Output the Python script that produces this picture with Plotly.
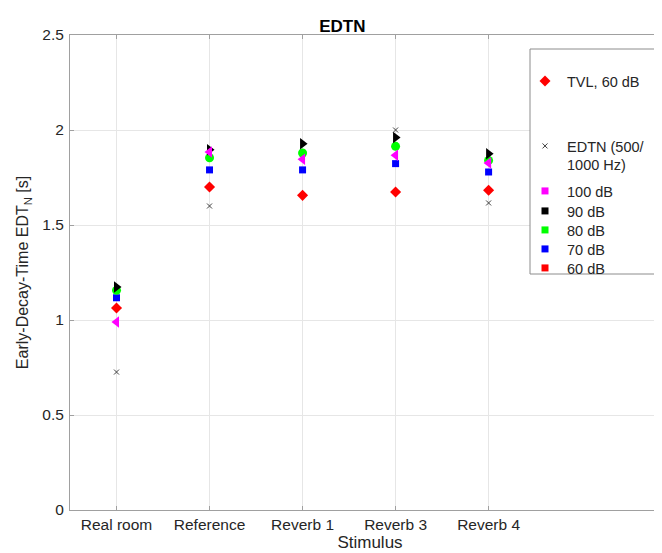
import plotly.graph_objects as go

categories = ["Real room", "Reference", "Reverb 1", "Reverb 3", "Reverb 4"]
tvl_60db = [1.063, 1.70, 1.656, 1.674, 1.683]
edtn_500_1000 = [0.726, 1.60, None, 2.00, 1.616]
level_100db = [0.989, 1.884, 1.846, 1.867, 1.826]
level_90db = [1.174, 1.896, 1.928, 1.960, 1.875]
level_80db = [1.156, 1.854, 1.879, 1.914, 1.840]
level_70db = [1.117, 1.790, 1.790, 1.823, 1.779]
y_ticks = [0, 0.5, 1, 1.5, 2, 2.5]
y_tick_labels = ["0", "0.5", "1", "1.5", "2", "2.5"]
level_names = ["100 dB", "90 dB", "80 dB", "70 dB", "60 dB"]
level_colors = ["#ff00ff", "#000000", "#00ff00", "#0000ff", "#ff0000"]

FONT = "Liberation Sans, Arial, sans-serif"
TXT = "#262626"
XCOL = "#404040"

fig = go.Figure()

# plotted series (draw order controls overlap)
fig.add_trace(go.Scatter(x=categories, y=edtn_500_1000, mode="markers", showlegend=False,
                         marker=dict(symbol="x-thin-open", size=5, color=XCOL,
                                     line=dict(width=1, color=XCOL))))
fig.add_trace(go.Scatter(x=categories, y=tvl_60db, mode="markers", showlegend=False,
                         marker=dict(symbol="diamond", size=8.5, color="#ff0000")))
fig.add_trace(go.Scatter(x=categories, y=level_70db, mode="markers", showlegend=False,
                         marker=dict(symbol="square", size=7, color="#0000ff")))
fig.add_trace(go.Scatter(x=categories, y=level_80db, mode="markers", showlegend=False,
                         marker=dict(symbol="circle", size=9, color="#00ff00")))
fig.add_trace(go.Scatter(x=categories, y=level_90db, mode="markers", showlegend=False,
                         marker=dict(symbol="triangle-right", size=10, color="#000000")))
fig.add_trace(go.Scatter(x=categories, y=level_100db, mode="markers", showlegend=False,
                         marker=dict(symbol="triangle-left", size=10, color="#ff00ff")))

L, T, B = 62, 27, 51
W, H = 662, 553
PW, PH = W - L, H - T - B


def px(xp):
    return (xp - L) / PW


def py(yp):
    return (T + PH - yp) / PH


leg_common = dict(bgcolor="rgba(0,0,0,0)", borderwidth=0, xanchor="left", yanchor="middle",
                  font=dict(family=FONT, size=14.5, color=TXT), tracegroupgap=0,
                  itemwidth=34)
LEG_X = px(515)

# legend entries (each in its own legend so it can be placed freely)
fig.add_trace(go.Scatter(x=[None], y=[None], mode="markers", name="TVL, 60 dB", legend="legend",
                         marker=dict(symbol="diamond", size=8.5, color="#ff0000")))
fig.add_trace(go.Scatter(x=[None], y=[None], mode="markers", name="EDTN (500/<br>1000 Hz)",
                         legend="legend2",
                         marker=dict(symbol="x-thin-open", size=5, color=XCOL,
                                     line=dict(width=1, color=XCOL))))
legends = {}
level_centers = [183, 203, 222, 241, 260]
for i, (name, col) in enumerate(zip(level_names, level_colors)):
    key = "legend%d" % (i + 3)
    fig.add_trace(go.Scatter(x=[None], y=[None], mode="markers", name=name, legend=key,
                             marker=dict(symbol="square", size=7, color=col)))
    legends[key] = dict(x=LEG_X, y=py(level_centers[i]), **leg_common)

fig.update_layout(
    width=W, height=H,
    margin=dict(l=L, r=0, t=T, b=B),
    paper_bgcolor="white", plot_bgcolor="white",
    font=dict(family=FONT, color=TXT),
    title=dict(text="<b>EDTN</b>", x=px(365), xanchor="center", y=1 - 18.5 / H, yanchor="middle",
               font=dict(family=FONT, size=17, color="#000000")),
    xaxis=dict(type="category", range=[-0.5, 5.95], showgrid=True, gridcolor="#e6e6e6",
               gridwidth=1, showline=True, linecolor="#a0a0a0", linewidth=1, mirror="ticks",
               ticks="inside", ticklen=4, tickcolor="#a0a0a0",
               tickfont=dict(family=FONT, size=15.5, color=TXT),
               title=dict(text="Stimulus", font=dict(family=FONT, size=17, color=TXT), standoff=4),
               zeroline=False),
    yaxis=dict(range=[0, 2.5], tickvals=y_ticks, ticktext=y_tick_labels, showgrid=True,
               gridcolor="#e6e6e6", gridwidth=1, showline=True, linecolor="#a0a0a0",
               linewidth=1, ticks="inside", ticklen=4, tickcolor="#a0a0a0",
               ticklabelstandoff=2,
               tickfont=dict(family=FONT, size=15.5, color=TXT),
               title=dict(text="Early-Decay-Time EDT<sub>N</sub> [s]",
                          font=dict(family=FONT, size=16, color=TXT), standoff=9),
               zeroline=False),
    legend=dict(x=LEG_X, y=py(73), **leg_common),
    legend2=dict(x=LEG_X, y=py(147.5), valign="top", **leg_common),
    shapes=[dict(type="rect", xref="paper", yref="paper", x0=px(522), x1=px(652),
                 y0=py(266), y1=py(41), line=dict(color="#8c8c8c", width=1),
                 fillcolor="white", layer="above")],
    **legends,
)

fig.write_html("out.html")
